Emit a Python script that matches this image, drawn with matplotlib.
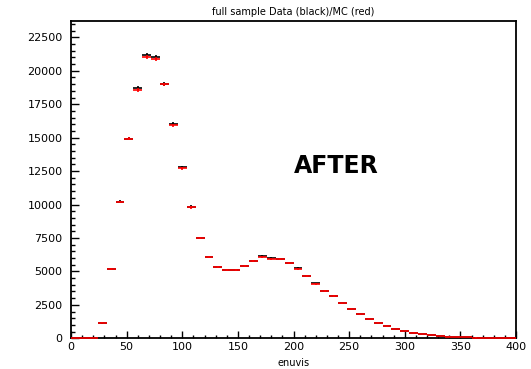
import numpy as np
import matplotlib
matplotlib.use("Agg")
import matplotlib.pyplot as plt
from matplotlib.ticker import MultipleLocator

# Histogram: 50 bins of width 8 from 0 to 400
bin_width = 8
n_bins = 50
bin_centers = [4 + 8 * i for i in range(n_bins)]

data_counts = [0, 0, 0, 1140, 5200, 10220, 14930, 18690, 21200, 21050,
               19000, 16040, 12800, 9830, 7480, 6080, 5330, 5100, 5130, 5430,
               5800, 6120, 5980, 5930, 5640, 5250, 4660, 4100, 3560, 3170,
               2620, 2210, 1790, 1470, 1170, 900, 700, 540, 430, 330,
               250, 180, 130, 100, 75, 55, 40, 30, 20, 15]

mc_counts = [0, 0, 0, 1150, 5170, 10200, 14920, 18550, 21000, 20870,
             18980, 15920, 12700, 9800, 7490, 6110, 5320, 5140, 5130, 5430,
             5800, 6090, 5950, 5900, 5620, 5180, 4660, 4080, 3550, 3150,
             2610, 2200, 1790, 1460, 1170, 900, 700, 540, 430, 330,
             250, 180, 130, 100, 75, 55, 40, 30, 20, 15]

title = "full sample Data (black)/MC (red)"
xlabel = "enuvis"
label_text = "AFTER"

x = np.array(bin_centers, dtype=float)
yd = np.array(data_counts, dtype=float)
ym = np.array(mc_counts, dtype=float)

plt.rcParams['font.family'] = ['DejaVu Sans']

fig = plt.figure(figsize=(5.31, 3.69), dpi=100)
ax = fig.add_axes([71 / 531, (369 - 338.3) / 369, 445 / 531, (338.3 - 21) / 369])

ax.errorbar(x, yd, xerr=bin_width / 2, yerr=np.sqrt(yd), fmt='none',
            ecolor='black', elinewidth=1.2, capsize=0, zorder=3, clip_on=False)
ax.errorbar(x, ym, xerr=bin_width / 2, yerr=np.sqrt(ym), fmt='none',
            ecolor='#ff0000', elinewidth=1.2, capsize=0, zorder=4, clip_on=False)

ax.set_xlim(0, 400)
ax.set_ylim(0, 23720)

ax.xaxis.set_major_locator(MultipleLocator(50))
ax.xaxis.set_minor_locator(MultipleLocator(10))
ax.yaxis.set_major_locator(MultipleLocator(2500))
ax.yaxis.set_minor_locator(MultipleLocator(500))

ax.tick_params(axis='both', which='both', direction='in', top=False, right=False,
               labelsize=8, width=1)
ax.tick_params(axis='y', which='major', length=6, pad=6)
ax.tick_params(axis='y', which='minor', length=3)
ax.tick_params(axis='x', which='major', length=5, pad=3)
ax.tick_params(axis='x', which='minor', length=2.5)

for sp in ax.spines.values():
    sp.set_linewidth(1.3)

ax.set_title(title, fontsize=7, pad=4)
fig.text(293.5 / 531, 1 - 363 / 369, xlabel, ha='center', va='center', fontsize=7)

ax.text(238, 12900, label_text, fontsize=17, fontweight='bold', ha='center', va='center')

fig.savefig("out.png", dpi=100)
